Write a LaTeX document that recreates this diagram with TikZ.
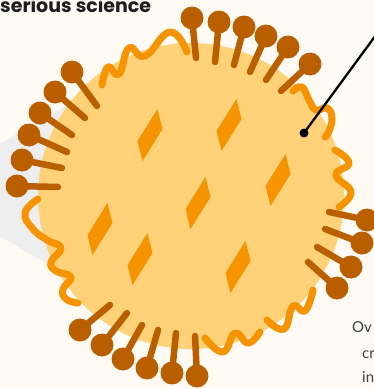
\documentclass[tikz,border=0pt]{standalone}
\usepackage{fontspec}
\newfontfamily\headfont{Poppins}
\newfontfamily\notefont{Lato}

\definecolor{paper}{HTML}{FFFAF3}
\definecolor{haze}{HTML}{EEEEEE}
\definecolor{body}{HTML}{FFD27A}
\definecolor{accent}{HTML}{F59300}
\definecolor{spike}{HTML}{B95F00}
\definecolor{ink}{HTML}{1E1E1E}

\tikzset{
  wave/.style={draw=accent, line width=7pt, line cap=round, line join=round},
  stem/.style={draw=spike, line width=6.5pt, line cap=round},
  knob/.style={fill=spike},
  grainfill/.style={fill=accent},
  pointer/.style={draw=black, line width=2.3pt},
}

% one surface protein: a stalk from (#1) ending in a ball at (#2)
\newcommand\lolly[2]{\draw[stem] (#1) -- (#2); \fill[knob] (#2) circle[radius=11.5pt];}
% one slanted grain centred at (#1)
\newcommand\grain[1]{\fill[grainfill] (#1) ++(7.5,-26) -- ++(5,20) -- ++(-20,32) -- ++(-5,-20) -- cycle;}

\begin{document}
\begin{tikzpicture}[x=1pt,y=-1pt]
\useasboundingbox (0,0) rectangle (374,389);
\clip (0,0) rectangle (374,389);
\fill[paper] (0,0) rectangle (374,389);

% grey backdrop wedge
\fill[haze] (-80,190) -- (110,80) -- (110,300) -- cycle;

% the particle
\fill[body] (191,196) circle[radius=153pt];

% grains inside
\grain{150,135}
\grain{229,125}
\grain{278,180}
\grain{198,203}
\grain{100,229}
\grain{140,259}
\grain{238,267}

% wavy strands round the rim
\draw[wave] plot[smooth, tension=0.8] coordinates {(102,85) (108,67) (119,74) (129,48) (145,56) (170,32) (187,52)};
\draw[wave] plot[smooth, tension=0.8] coordinates {(293,91) (302,87) (309,100) (316,110) (327,108) (332,118) (329,131) (325,137)};
\draw[wave] plot[smooth, tension=0.8] coordinates {(335,150) (349,163) (336,175) (351,192) (339,207)};
\draw[wave] plot[smooth, tension=0.8] coordinates {(205,338) (223,352) (235,333) (248,343) (260,332)};
\draw[wave] plot[smooth, tension=0.8] coordinates {(267,320) (284,329) (293,306) (305,311) (313,290)};
\draw[wave] plot[smooth, tension=0.8] coordinates {(38,199) (25,213) (33,229) (47,240) (61,248) (51,262) (56,271) (71,277) (63,289) (66,299) (78,303)};

% spikes: top
\lolly{196,58}{192,18}
\lolly{215,62}{219,22}
\lolly{234,65}{244,27}
\lolly{250,72}{266,36}
\lolly{266,80}{288,47}
\lolly{281,91}{310,64}
% spikes: upper left
\lolly{97,106}{72,72}
\lolly{85,118}{55,92}
\lolly{72,135}{40,113}
\lolly{67,152}{29,135}
\lolly{62,168}{22,160}
\lolly{58,187}{17,186}
% spikes: right
\lolly{329,212}{367,220}
\lolly{325,229}{362,243}
\lolly{317,247}{351,267}
\lolly{308,262}{337,288}
% spikes: bottom
\lolly{110,305}{80,330}
\lolly{127,313}{102,345}
\lolly{142,325}{123,359}
\lolly{158,330}{147,368}
\lolly{176,333}{172,373}
\lolly{195,336}{197,376}

% pointer
\node[circle, fill=black, inner sep=0pt, minimum size=9pt] (pin) at (304,133) {};
\coordinate (pinend) at (398,5);
\draw[pointer] (pin.center) -- (pinend);

% text
\node[anchor=base west, inner sep=0pt, text=ink,
      font=\headfont\bfseries\fontsize{19}{19}\selectfont] (title) at (0,12) {serious science};
\node[anchor=base west, inner sep=0pt, text=ink!85,
      font=\notefont\fontsize{15}{15}\selectfont] (note1) at (352,332) {Ov};
\node[anchor=base west, inner sep=0pt, text=ink!85,
      font=\notefont\fontsize{15}{15}\selectfont] (note2) at (362,358) {cr};
\node[anchor=base west, inner sep=0pt, text=ink!85,
      font=\notefont\fontsize{15}{15}\selectfont] (note3) at (362,382) {in};
\end{tikzpicture}
\end{document}
